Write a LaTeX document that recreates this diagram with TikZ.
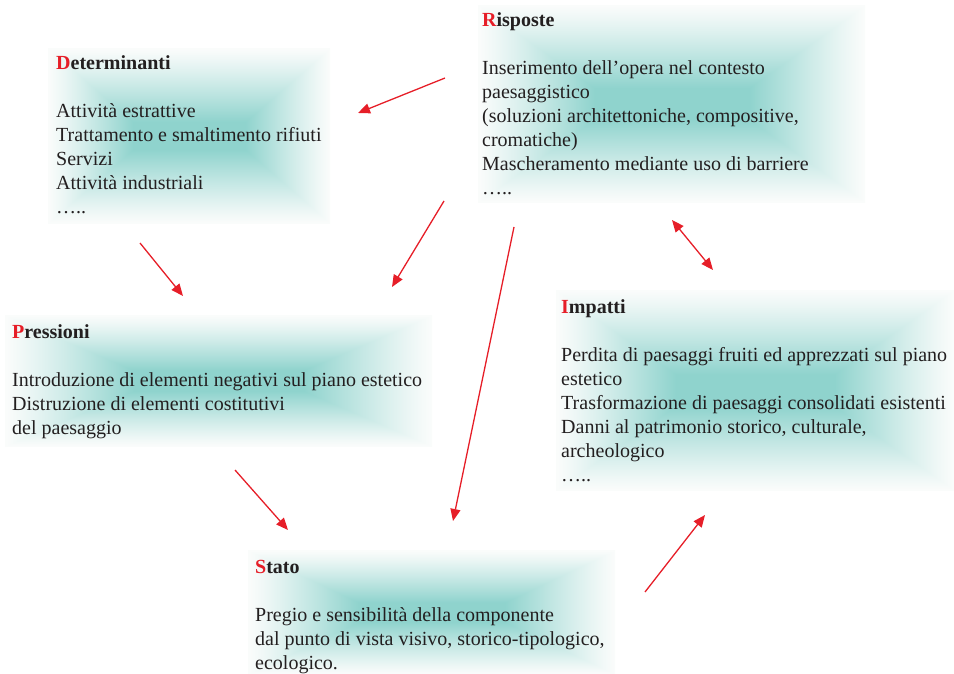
\documentclass[tikz,border=0pt]{standalone}
\usepackage{fontspec}
\setmainfont{Liberation Serif}
\usetikzlibrary{arrows.meta}

\definecolor{arrowred}{RGB}{230,30,40}
\definecolor{inkgrey}{RGB}{35,31,32}

% Rectangular glow: teal in the middle, fading out towards the border
\pgfdeclarefunctionalshading{tealglow}{\pgfpoint{-50bp}{-50bp}}{\pgfpoint{50bp}{50bp}}{}{
  abs 4 sub dup 0 lt {pop 0} if 21 div
  exch abs 10 sub dup 0 lt {pop 0} if 15 div
  2 copy lt {exch} if pop
  dup 1 gt {pop 1} if
  1 exch sub 1.15 exp
  dup 0.42 mul 0.982 exch sub exch
  dup 0.16 mul 0.988 exch sub exch
  0.18 mul 0.985 exch sub
}

\tikzset{
  glowbox/.style={shading=tealglow, draw=none, anchor=north west, inner sep=0pt},
  boxtext/.style={anchor=north west, inner sep=0pt, align=left, text=inkgrey,
    font=\fontsize{20}{24}\selectfont},
  flow/.style={draw=arrowred, line width=1.3pt, -{Triangle[length=12pt,width=10pt]}},
  dflow/.style={draw=arrowred, line width=1.3pt,
    {Triangle[length=12pt,width=10pt]}-{Triangle[length=12pt,width=10pt]}},
}
\newcommand{\headword}[2]{\textbf{\textcolor{arrowred}{#1}#2}}

\begin{document}
\begin{tikzpicture}[x=1pt,y=-1pt]
\useasboundingbox (0,0) rectangle (954,674);

% shaded panels
\node[glowbox, minimum width=282pt, minimum height=175pt] (Dbox) at (48,48) {};
\node[glowbox, minimum width=387pt, minimum height=197pt] (Rbox) at (478,5) {};
\node[glowbox, minimum width=427pt, minimum height=131pt] (Pbox) at (5,315) {};
\node[glowbox, minimum width=398pt, minimum height=200pt] (Ibox) at (556,290) {};
\node[glowbox, minimum width=367pt, minimum height=124pt] (Sbox) at (248,550) {};

% panel texts
\node[boxtext] (Dtext) at (56,52.2) {\strut\headword{D}{eterminanti}\\[24pt]
  Attività estrattive\\
  Trattamento e smaltimento rifiuti\\
  Servizi\\
  Attività industriali\\
  …..};
\node[boxtext] (Rtext) at (482,9.2) {\strut\headword{R}{isposte}\\[24pt]
  Inserimento dell’opera nel contesto\\
  paesaggistico\\
  (soluzioni architettoniche, compositive,\\
  cromatiche)\\
  Mascheramento mediante uso di barriere\\
  …..};
\node[boxtext] (Ptext) at (12,321.2) {\strut\headword{P}{ressioni}\\[24pt]
  Introduzione di elementi negativi sul piano estetico\\
  Distruzione di elementi costitutivi\\
  del paesaggio};
\node[boxtext] (Itext) at (561,296.2) {\strut\headword{I}{mpatti}\\[24pt]
  Perdita di paesaggi fruiti ed apprezzati sul piano\\
  estetico\\
  Trasformazione di paesaggi consolidati esistenti\\
  Danni al patrimonio storico, culturale,\\
  archeologico\\
  …..};
\node[boxtext] (Stext) at (255,556.2) {\strut\headword{S}{tato}\\[24pt]
  Pregio e sensibilità della componente\\
  dal punto di vista visivo, storico-tipologico,\\
  ecologico.};

% arrow end points
\coordinate (rd0) at (445,78);  \coordinate (rd1) at (358,113);
\coordinate (dp0) at (140,243); \coordinate (dp1) at (183,296);
\coordinate (rp0) at (444,201); \coordinate (rp1) at (392,287);
\coordinate (rs0) at (514,227); \coordinate (rs1) at (453,521);
\coordinate (ps0) at (235,470); \coordinate (ps1) at (288,530);
\coordinate (si0) at (645,592); \coordinate (si1) at (705,515);
\coordinate (ri0) at (672,220); \coordinate (ri1) at (713,270);

% cause-effect chain
\draw[flow] (rd0) -- (rd1);
\draw[flow] (dp0) -- (dp1);
\draw[flow] (rp0) -- (rp1);
\draw[flow] (rs0) -- (rs1);
\draw[flow] (ps0) -- (ps1);
\draw[flow] (si0) -- (si1);
\draw[dflow] (ri0) -- (ri1);
\end{tikzpicture}
\end{document}
